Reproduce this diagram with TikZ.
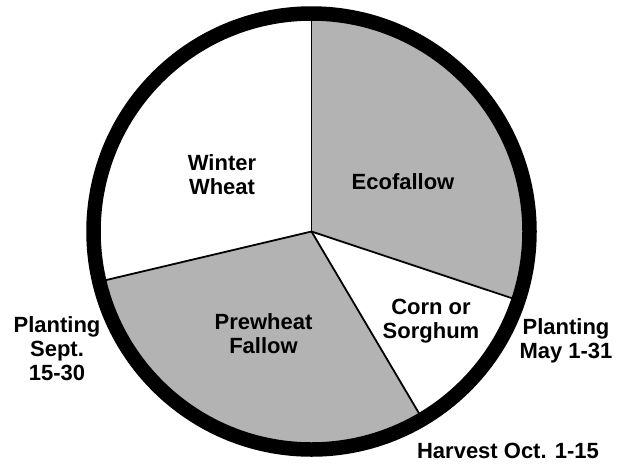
\documentclass[tikz,border=0pt]{standalone}
\usepackage{fontspec}
\setmainfont{Liberation Sans}
\definecolor{piegray}{RGB}{179,179,179}
\begin{document}
\begin{tikzpicture}[x=1pt,y=1pt,
  lbl/.style={font=\bfseries\fontsize{22}{24}\selectfont, align=center, inner sep=0pt},
  divider/.style={draw=black, line width=1.8pt},
  ring/.style={draw=black, line width=14.5pt}]
\useasboundingbox[fill=white] (0,0) rectangle (623,-464);
\def\R{218}
\coordinate (c) at (311.5,-231.5);
\path (c) ++(90:\R) coordinate (pTop);
\path (c) ++(193.3:\R) coordinate (pLeft);
\path (c) ++(300.6:\R) coordinate (pBottom);
\path (c) ++(341.6:\R) coordinate (pRight);
% sectors
\fill[white] (c) -- (pTop) arc[start angle=90, end angle=193.3, radius=\R] -- cycle;
\fill[piegray] (c) -- (pLeft) arc[start angle=193.3, end angle=300.6, radius=\R] -- cycle;
\fill[white] (c) -- (pBottom) arc[start angle=300.6, end angle=341.6, radius=\R] -- cycle;
\fill[piegray] (c) -- (pRight) arc[start angle=341.6, end angle=450, radius=\R] -- cycle;
% dividers
\draw[divider] (c) -- (pTop);
\draw[divider] (c) -- (pLeft);
\draw[divider] (c) -- (pBottom);
\draw[divider] (c) -- (pRight);
% ring
\draw[ring] (c) circle[radius=\R];
% labels
\node[lbl] (ww) at (222,-175) {Winter\\Wheat};
\node[lbl] (eco) at (403,-182) {Ecofallow};
\node[lbl] (pf) at (263.5,-334) {Prewheat\\Fallow};
\node[lbl] (cs) at (431,-321) {Corn or\\Sorghum};
\node[lbl] (ps) at (57,-349) {Planting\\Sept.\\15-30};
\node[lbl] (pm) at (566,-341) {Planting\\May 1-31};
\node[lbl] (hv) at (508,-451) {Harvest Oct. 1-15};
\end{tikzpicture}
\end{document}
